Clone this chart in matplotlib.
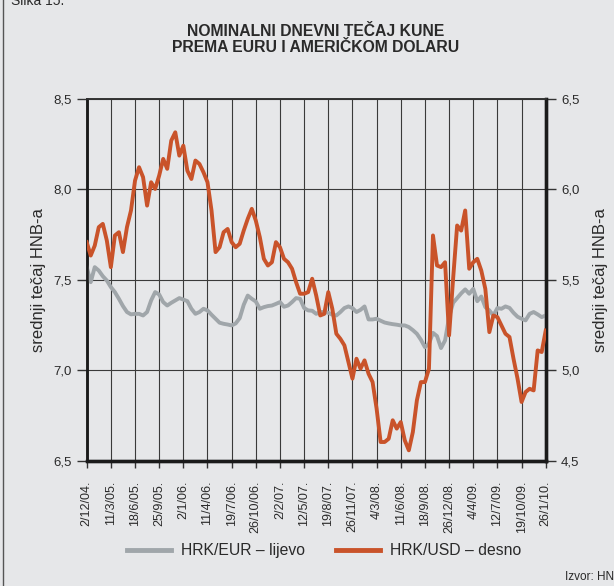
import numpy as np
import pandas as pd
import matplotlib
matplotlib.use("Agg")
import matplotlib.pyplot as plt

plt.rcParams['font.family'] = ['Liberation Sans', 'DejaVu Sans']

# data (one reading every ~16.5 days)
start = "2004-12-02"
end = "2010-01-26"

hrk_eur = [7.571, 7.488, 7.571, 7.552, 7.521, 7.497, 7.461, 7.433, 7.396, 7.356,
           7.323, 7.310, 7.313, 7.313, 7.304, 7.323, 7.387, 7.433, 7.420, 7.378,
           7.359, 7.374, 7.387, 7.400, 7.392, 7.383, 7.341, 7.313, 7.323, 7.341,
           7.332, 7.308, 7.286, 7.264, 7.258, 7.254, 7.249, 7.260, 7.289, 7.363,
           7.414, 7.396, 7.381, 7.341, 7.350, 7.356, 7.359, 7.368, 7.378, 7.352,
           7.359, 7.378, 7.400, 7.396, 7.345, 7.332, 7.330, 7.313, 7.323, 7.323,
           7.319, 7.308, 7.304, 7.323, 7.345, 7.354, 7.345, 7.323, 7.335, 7.354,
           7.282, 7.282, 7.286, 7.275, 7.265, 7.260, 7.256, 7.253, 7.249, 7.249,
           7.240, 7.223, 7.203, 7.170, 7.129, 7.148, 7.208, 7.190, 7.124, 7.166,
           7.295, 7.374, 7.400, 7.426, 7.448, 7.424, 7.451, 7.383, 7.409, 7.350,
           7.332, 7.304, 7.345, 7.341, 7.354, 7.346, 7.319, 7.297, 7.286, 7.277,
           7.313, 7.323, 7.310, 7.295, 7.304]

hrk_usd = [5.709, 5.635, 5.690, 5.792, 5.810, 5.718, 5.571, 5.746, 5.764, 5.654,
           5.792, 5.884, 6.049, 6.123, 6.068, 5.911, 6.040, 6.003, 6.077, 6.169,
           6.114, 6.270, 6.316, 6.187, 6.242, 6.104, 6.058, 6.160, 6.141, 6.095,
           6.040, 5.884, 5.654, 5.681, 5.764, 5.782, 5.709, 5.681, 5.700, 5.773,
           5.838, 5.893, 5.828, 5.736, 5.617, 5.580, 5.598, 5.709, 5.681, 5.617,
           5.598, 5.562, 5.488, 5.424, 5.424, 5.433, 5.507, 5.414, 5.304, 5.313,
           5.433, 5.341, 5.203, 5.175, 5.139, 5.047, 4.955, 5.065, 5.010, 5.056,
           4.982, 4.936, 4.789, 4.605, 4.605, 4.623, 4.725, 4.679, 4.715, 4.614,
           4.559, 4.660, 4.835, 4.936, 4.936, 5.010, 5.746, 5.580, 5.571, 5.598,
           5.194, 5.507, 5.801, 5.773, 5.884, 5.562, 5.598, 5.617, 5.552, 5.451,
           5.212, 5.304, 5.295, 5.249, 5.203, 5.185, 5.065, 4.955, 4.826, 4.881,
           4.899, 4.890, 5.111, 5.102, 5.221]

dates = pd.date_range(start, end, periods=len(hrk_eur))

tick_dates = pd.date_range(start, periods=20, freq="99D")
tick_labels = ["2/12/04.", "11/3/05.", "18/6/05.", "25/9/05.", "2/1/06.",
               "11/4/06.", "19/7/06.", "26/10/06.", "2/2/07.", "12/5/07.",
               "19/8/07.", "26/11/07.", "4/3/08.", "11/6/08.", "18/9/08.",
               "26/12/08.", "4/4/09.", "12/7/09.", "19/10/09.", "26/1/10."]

left_ticks = [6.5, 7.0, 7.5, 8.0, 8.5]
left_labels = ["6,5", "7,0", "7,5", "8,0", "8,5"]
right_ticks = [4.5, 5.0, 5.5, 6.0, 6.5]
right_labels = ["4,5", "5,0", "5,5", "6,0", "6,5"]

bg = "#e6e7e9"
grey = "#a0a6aa"
orange = "#c9532a"
txt = "#2a2a2a"

fig = plt.figure(figsize=(6.14, 5.86), dpi=100, facecolor=bg)
ax = fig.add_axes([0.1412, 0.2133, 0.7476, 0.6178])
ax.set_facecolor(bg)
ax2 = ax.twinx()

l1, = ax.plot(dates, hrk_eur, color=grey, lw=2.8, solid_joinstyle="round", zorder=3)
l2, = ax2.plot(dates, hrk_usd, color=orange, lw=2.8, solid_joinstyle="round", zorder=3)

ax.set_xlim(tick_dates[0], tick_dates[-1])
ax.set_ylim(6.5, 8.5)
ax2.set_ylim(4.5, 6.5)

ax.set_xticks(tick_dates)
ax.set_xticklabels(tick_labels, rotation=90, fontsize=9, color=txt)
ax.set_yticks(left_ticks)
ax.set_yticklabels(left_labels, fontsize=9.5, color=txt)
ax2.set_yticks(right_ticks)
ax2.set_yticklabels(right_labels, fontsize=9.5, color=txt)

ax.tick_params(axis="x", length=5, width=1, color="#333333", pad=9)
ax.tick_params(axis="y", length=7, width=1, color="#333333", pad=4)
ax2.tick_params(axis="y", length=7, width=1, color="#333333", pad=4)

ax.grid(True, color="#3a3a3a", lw=0.8)
ax.set_axisbelow(True)

for a in (ax, ax2):
    a.spines["top"].set_color("#333333")
    a.spines["top"].set_linewidth(1.2)
    a.spines["left"].set_linewidth(1.8)
    a.spines["bottom"].set_linewidth(2.4)
    a.spines["right"].set_linewidth(2.4)
    a.spines["left"].set_color("#1a1a1a")
    a.spines["bottom"].set_color("#1a1a1a")
    a.spines["right"].set_color("#1a1a1a")

fig.text(0.514, 0.932, "NOMINALNI DNEVNI TEČAJ KUNE\nPREMA EURU I AMERIČKOM DOLARU",
         ha="center", va="center", fontsize=11.3, fontweight="bold", color=txt,
         linespacing=1.1)

fig.text(0.062, 0.522, "srednji tečaj HNB-a", rotation=90, ha="center", va="center",
         fontsize=12, color=txt)
fig.text(0.978, 0.522, "srednji tečaj HNB-a", rotation=90, ha="center", va="center",
         fontsize=12, color=txt)

fig.text(0.018, 0.999, "Slika 15.", ha="left", va="center", fontsize=10, color=txt)
fig.text(0.92, 0.016, "Izvor: HNB", ha="left", va="center", fontsize=8.5, color=txt)

# left frame line of the box
fig.add_artist(plt.Line2D([0.005, 0.005], [0, 1], color="#555555", lw=1.0))

fig.legend([l1, l2], ["HRK/EUR – lijevo", "HRK/USD – desno"], loc="center",
           bbox_to_anchor=(0.528, 0.06), ncol=2, frameon=False, fontsize=11.3,
           handlelength=2.8, handletextpad=0.65, columnspacing=2.0,
           labelcolor=txt)
for h in fig.legends[0].get_lines():
    h.set_linewidth(3.5)

fig.savefig("out.png", dpi=100, facecolor=bg)
